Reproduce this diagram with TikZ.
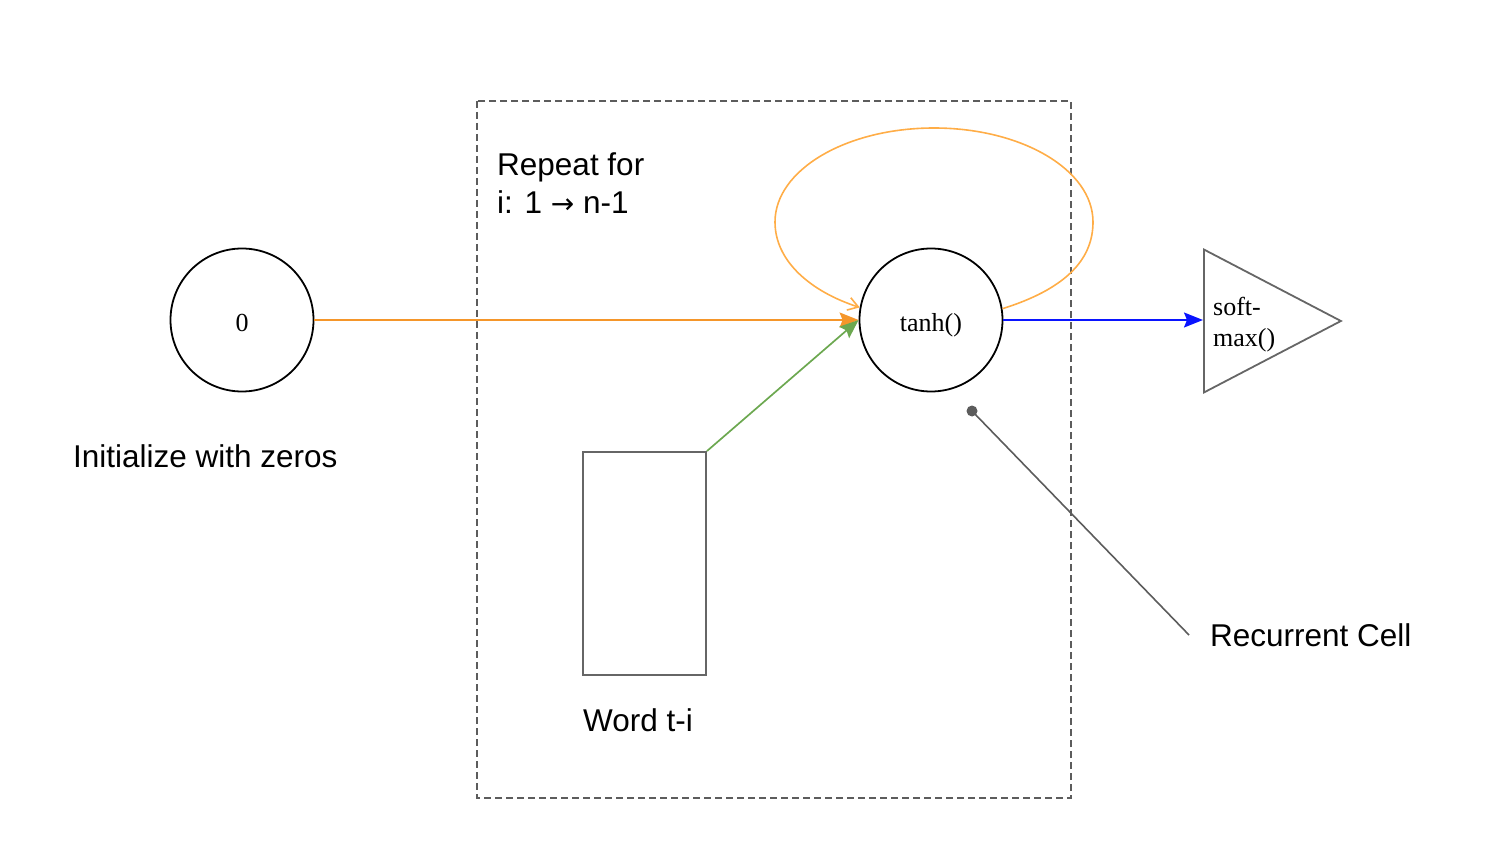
\documentclass[tikz,border=0pt]{standalone}
\usepackage{fontspec}
\setmainfont{Liberation Serif}
\setsansfont{Liberation Sans}
\newfontfamily\arrowfont{DejaVu Sans}
\usetikzlibrary{arrows.meta,shapes.geometric}

\definecolor{hidorange}{HTML}{F5962A}
\definecolor{looporange}{HTML}{FFAD47}
\definecolor{wordgreen}{HTML}{6CA850}
\definecolor{outblue}{HTML}{0A14FF}
\definecolor{boxgray}{HTML}{666666}

\begin{document}
\begin{tikzpicture}[x=1pt,y=-1pt,
    unit/.style ={circle, draw, line width=1.8pt, minimum size=143pt, inner sep=0pt,
                  text height=22pt, text depth=0pt, font=\fontsize{26}{31}\selectfont},
    note/.style ={font=\sffamily\fontsize{31.5}{38}\selectfont, inner sep=0pt},
    flow/.style ={line width=1.7pt, -{Stealth[length=19pt,width=15pt,inset=3pt]}}]
   \useasboundingbox (0,0) rectangle (1486,850);
   % repeat frame
   \draw[boxgray!90!black, line width=1.5pt, dash pattern=on 7pt off 4pt]
      (477,101) rectangle (1071,798);
   \node[note, align=left, anchor=base west] (repeat) at (497,214)
      {Repeat for\\i: 1 {\arrowfont\fontsize{28}{38}\selectfont →} n-1};
   % cells
   \node[unit] (zero) at (242,320) {0};
   \node[note, anchor=base west] (init) at (73,467) {Initialize with zeros};
   \node[unit] (tanh) at (931,320) {tanh()};
   \node[draw=boxgray, line width=1.8pt, minimum width=123pt, minimum height=223pt, inner sep=0pt]
      (word) at (644.5,563.5) {};
   \node[note, anchor=base west] (wordtxt) at (583,731) {Word t-i};
   \node[isosceles triangle, isosceles triangle stretches, draw=boxgray, line width=1.8pt,
         minimum width=143pt, minimum height=137pt, inner sep=0pt, anchor=west]
      (smax) at (1203,321) {};
   \node[align=left, anchor=west, inner sep=0pt, font=\fontsize{26}{31}\selectfont]
      (smaxtxt) at (1213,325) {soft-\\max()};
   \node[note, anchor=base west] (cell) at (1210,646) {Recurrent Cell};
   % connectors
   \draw[flow, hidorange] (zero) to (tanh);
   \draw[flow, wordgreen] (word.north east) to (tanh.west);
   \draw[flow, outblue] (tanh) to (tanh -| smax.west);
   \draw[looporange, line width=1.6pt, -{Straight Barb[length=10pt,width=13pt]}]
      (tanh.9) .. controls (1062,290) and (1093,262) .. (1093,222)
      .. controls (1093,170) and (1022,128) .. (934,128)
      .. controls (846,128) and (775,170) .. (775,222)
      .. controls (775,262) and (812,292) .. (tanh.170);
   \coordinate (pin) at (972,411);
   \coordinate (pinend) at (1189,635);
   \draw[boxgray!90!black, line width=1.6pt] (pin) to (pinend);
   \fill[boxgray!90!black] (pin) circle (5.5);
\end{tikzpicture}
\end{document}
